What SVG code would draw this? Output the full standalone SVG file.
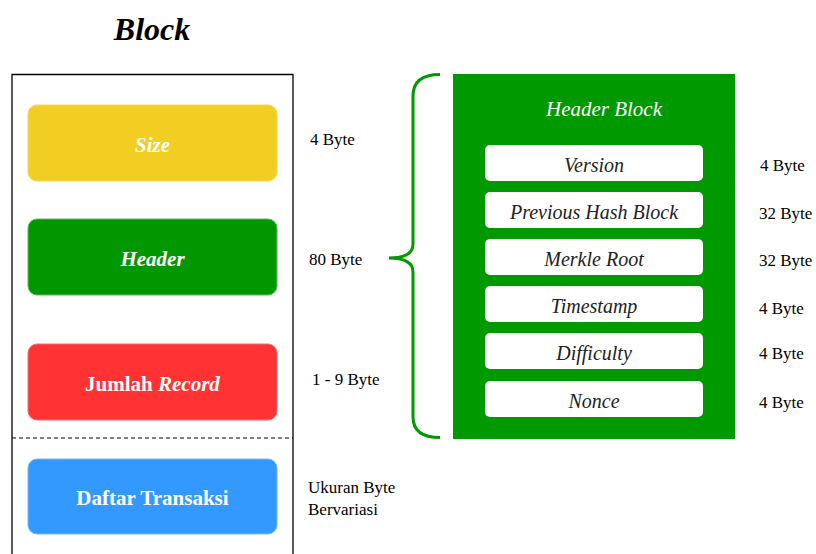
<svg xmlns="http://www.w3.org/2000/svg" width="816" height="554" viewBox="0 0 816 554">
<style>
.lbl{font-family:"Liberation Serif","DejaVu Serif",serif;font-size:17px;fill:#000}
.btxt{font-family:"Liberation Serif","DejaVu Serif",serif;font-size:21px;font-weight:bold;fill:#fff;text-anchor:middle}
.itxt{font-family:"Liberation Serif","DejaVu Serif",serif;font-size:20px;font-style:italic;fill:#222;text-anchor:middle}
.inner{fill:#fff;stroke:none}
</style>
<rect width="816" height="554" fill="#fff"/>
<text x="152" y="40" text-anchor="middle" style="font-family:'Liberation Serif',serif;font-size:32px;font-weight:bold;font-style:italic" fill="#000">Block</text>
<g id="block-frame">
<path d="M12,554 V74.5 H293 V554" fill="none" stroke="#000" stroke-width="1.3"/>
<line x1="12" y1="438" x2="293" y2="438" stroke="#000" stroke-width="1.2" stroke-dasharray="4,3"/>
</g>
<g id="size"><rect x="28" y="105" width="249" height="76" rx="9" fill="#F2CD22" stroke="#f5d65a" stroke-width="1"/>
<text class="btxt" x="152.5" y="152" font-style="italic">Size</text></g>
<g id="header"><rect x="28" y="219" width="249" height="76" rx="9" fill="#019701" stroke="#5db85d" stroke-width="1"/>
<text class="btxt" x="152.5" y="266" font-style="italic">Header</text></g>
<g id="jumlah"><rect x="28" y="344" width="249" height="76" rx="9" fill="#FF3333" stroke="#f07070" stroke-width="1"/>
<text class="btxt" x="152.5" y="391">Jumlah <tspan font-style="italic">Record</tspan></text></g>
<g id="daftar"><rect x="28" y="459" width="249" height="75" rx="9" fill="#3399FF" stroke="#7ab8f5" stroke-width="1"/>
<text class="btxt" x="152.5" y="505">Daftar Transaksi</text></g>
<g id="left-labels">
<text class="lbl" x="310" y="145">4 Byte</text>
<text class="lbl" x="309" y="265">80 Byte</text>
<text class="lbl" x="312" y="385">1 - 9 Byte</text>
<text class="lbl" x="308" y="493">Ukuran Byte</text>
<text class="lbl" x="308" y="515">Bervariasi</text>
</g>
<g id="connectors">
<path d="M440,74.5 Q413,74.5 413,96 L413,244 Q413,258 389,258 Q413,258 413,272 L413,417 Q413,437.5 440,437.5" fill="none" stroke="#009900" stroke-width="3"/>
</g>
<g id="header-block">
<rect x="453" y="74" width="282" height="365" fill="#009900"/>
<text x="604" y="116" text-anchor="middle" style="font-family:'Liberation Serif',serif;font-size:21px;font-style:italic" fill="#fff">Header Block</text>
</g>
<g id="version"><rect class="inner" x="485" y="145" width="218" height="36" rx="5"/><text class="itxt" x="594" y="172">Version</text></g>
<g id="prevhash"><rect class="inner" x="485" y="192" width="218" height="36" rx="5"/><text class="itxt" x="594" y="219">Previous Hash Block</text></g>
<g id="merkle"><rect class="inner" x="485" y="239" width="218" height="36" rx="5"/><text class="itxt" x="594" y="266">Merkle Root</text></g>
<g id="timestamp"><rect class="inner" x="485" y="286" width="218" height="36" rx="5"/><text class="itxt" x="594" y="313">Timestamp</text></g>
<g id="difficulty"><rect class="inner" x="485" y="333" width="218" height="36" rx="5"/><text class="itxt" x="594" y="360">Difficulty</text></g>
<g id="nonce"><rect class="inner" x="485" y="381" width="218" height="36" rx="5"/><text class="itxt" x="594" y="408">Nonce</text></g>
<g id="right-labels">
<text class="lbl" x="760" y="171">4 Byte</text>
<text class="lbl" x="759" y="219">32 Byte</text>
<text class="lbl" x="759" y="266">32 Byte</text>
<text class="lbl" x="759" y="314">4 Byte</text>
<text class="lbl" x="759" y="359">4 Byte</text>
<text class="lbl" x="759" y="408">4 Byte</text>
</g>
</svg>
